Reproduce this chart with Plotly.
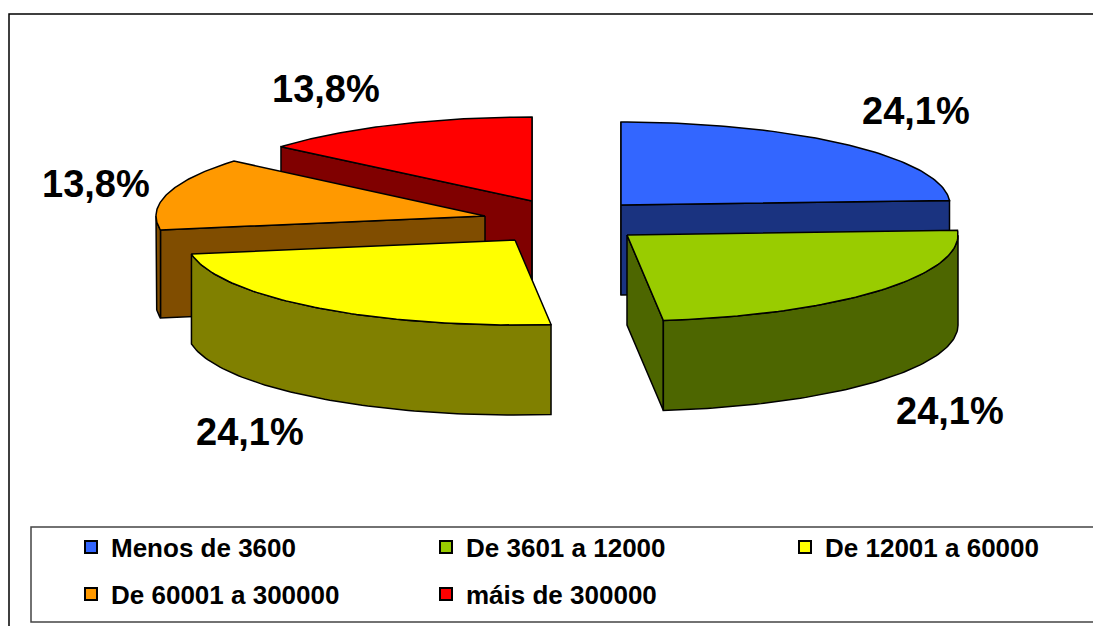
import numpy as np
import plotly.graph_objects as go

# ---- data ----
categories = ["Menos de 3600", "De 3601 a 12000", "De 12001 a 60000",
              "De 60001 a 300000", "máis de 300000"]
values = [24.1, 24.1, 24.1, 13.8, 13.8]

# ---- styles / layout geometry (pixel-like axes) ----
top_colors = ["#3366FF", "#99CC00", "#FFFF00", "#FF9900", "#FF0000"]
side_colors = ["#1A3380", "#4D6600", "#808000", "#804D00", "#800000"]
apex_x = [621, 627, 515, 485, 532]
apex_y = [205, 235, 240, 216, 201]
radius_x = [329, 331, 328, 329, 329]
radius_y = [83, 86, 85, 85, 84]
depth = [90, 90, 90, 88, 89]
label_x = [916, 950, 250, 96, 326]
label_y = [111, 411, 432, 184, 89]
legend_x = [71, 426, 785, 71, 426]
legend_y = [547, 547, 547, 594, 594]
draw_order = [4, 3, 2, 0, 1]
W, H = 1093, 626
EDGE = dict(color="black", width=1.5)

fig = go.Figure()


def face(xs, ys, color):
    fig.add_trace(go.Scatter(x=xs, y=ys, mode="lines", fill="toself",
                             fillcolor=color, line=EDGE, showlegend=False,
                             hoverinfo="skip"))


total = sum(values)
cum = np.cumsum([0] + values) / total * 2 * np.pi
TOL = 1e-9

for i in draw_order:
    a0, a1 = cum[i], cum[i + 1]
    t = np.linspace(a0, a1, 80)
    px = apex_x[i] + radius_x[i] * np.sin(t)
    py = apex_y[i] - radius_y[i] * np.cos(t)
    d = depth[i]
    # cut faces, only those turned toward the viewer
    edges = []
    if -np.sin(a0) >= -TOL:
        edges.append((px[0], py[0]))
    if np.sin(a1) >= -TOL:
        edges.append((px[-1], py[-1]))
    for ex, ey in edges:
        face([apex_x[i], ex, ex, apex_x[i], apex_x[i]],
             [apex_y[i], ey, ey + d, apex_y[i] + d, apex_y[i]], side_colors[i])
    # rim: only the part of the arc facing the viewer
    front = (t >= np.pi / 2) & (t <= 3 * np.pi / 2)
    if front.sum() > 1:
        fx, fy = px[front], py[front]
        face(list(fx) + list(fx[::-1]) + [fx[0]],
             list(fy) + list(fy[::-1] + d) + [fy[0]], side_colors[i])
    # top face
    face([apex_x[i]] + list(px) + [apex_x[i]],
         [apex_y[i]] + list(py) + [apex_y[i]], top_colors[i])

# legend entries: one small legend per entry, placed on the reference's grid
legend_layout = {}
for k, (name, color, lx, ly) in enumerate(zip(categories, top_colors, legend_x, legend_y)):
    key = "legend" if k == 0 else f"legend{k + 1}"
    fig.add_trace(go.Scatter(x=[None], y=[None], mode="markers", name=name, legend=key,
                             showlegend=True,
                             marker=dict(symbol="square", size=15, color=color,
                                         line=dict(color="black", width=1.5))))
    legend_layout[key] = dict(x=lx / W, y=1 - ly / H, xanchor="left", yanchor="middle",
                              bgcolor="rgba(0,0,0,0)", borderwidth=0,
                              itemsizing="constant",
                              font=dict(family="Liberation Sans", size=26,
                                        color="black", weight="bold"))

for v, lx, ly in zip(values, label_x, label_y):
    fig.add_annotation(x=lx, y=ly, text=f"{v:.1f}%".replace(".", ","),
                       showarrow=False,
                       font=dict(family="Liberation Sans", size=38,
                                 color="black", weight="bold"))

fig.update_layout(
    width=W, height=H, autosize=False,
    margin=dict(l=0, r=0, t=0, b=0),
    paper_bgcolor="white", plot_bgcolor="white",
    xaxis=dict(range=[0, W], visible=False, fixedrange=True),
    yaxis=dict(range=[H, 0], visible=False, fixedrange=True),
    shapes=[
        dict(type="rect", xref="x", yref="y", x0=9, y0=14, x1=W + 20, y1=H + 20,
             line=dict(color="black", width=1.5), layer="below"),
        dict(type="rect", xref="x", yref="y", x0=31, y0=527, x1=W + 20, y1=622,
             line=dict(color="#444444", width=1.5), layer="below"),
    ],
    **legend_layout,
)

fig.write_html("out.html", post_script="document.body.style.margin='0';",
               config={"displayModeBar": False})
